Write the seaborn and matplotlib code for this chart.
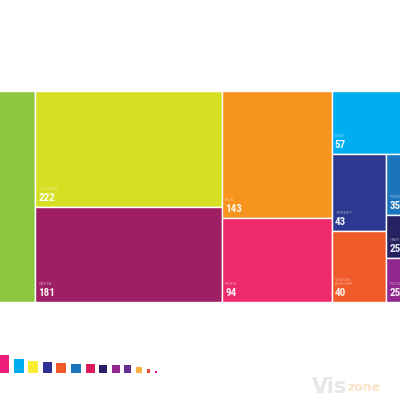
import matplotlib
matplotlib.use("Agg")
import matplotlib.pyplot as plt
from matplotlib import font_manager
import seaborn as sns

sns.set_theme(style="white")
plt.rcParams['font.family'] = ['DejaVu Sans']

# ---------------- data ----------------
names = ["SALAD", "CHICKEN", "PASTA", "RICE", "FRIES", "BEEF", "LAMB",
         "TURKEY", "VEGGIE\nBURGER", "PORK", "HAM", "PIZZA"]
values = [260, 222, 181, 143, 94, 57, 14, 43, 40, 35, 25, 25]
colors = ["#8DC63F", "#D7DF23", "#9E1F63", "#F7941D", "#EE2A6B", "#00AEEF",
          "#27AAE1", "#2B3990", "#F15A29", "#1B75BC", "#262262", "#92278F"]
# grouping of items (indices) into columns / rows
tree = [[0], [1, 2], [3, 4], [[5, 6], [[7, 8], [9, 10, 11]]]]

legend_colors = ["#ED1E79", "#00AEEF", "#F9ED32", "#2E3192", "#F15A29", "#1B75BC",
                 "#D91C5C", "#262262", "#92278F", "#662D91", "#FBB040", "#EF4136", "#EC008C"]
legend_w = [10, 10, 10, 9, 10, 10, 9, 8, 8, 7, 6, 3.5, 2]
legend_h = [18, 14, 12, 11, 10, 9, 9, 8, 8, 8, 6, 4, 2]

# condensed font for numbers, if available
avail = {f.name for f in font_manager.fontManager.ttflist}
narrow = None
for cand in ["Liberation Sans Narrow", "DejaVu Sans Condensed", "Roboto Condensed",
             "Open Sans Condensed"]:
    if cand in avail:
        narrow = cand
        break

# ---------------- layout ----------------
def total(node):
    if isinstance(node, int):
        return values[node]
    return sum(total(n) for n in node)

rects = {}
def layout(node, x, y, w, h, depth):
    if isinstance(node, int):
        rects[node] = (x, y, w, h)
        return
    s = total(node)
    pos = 0.0
    for child in node:
        f = total(child) / s
        if depth % 2 == 0:
            layout(child, x + pos * w, y, f * w, h, depth + 1)
        else:
            layout(child, x, y + pos * h, w, f * h, depth + 1)
        pos += f

top, H = 91, 211
k = 186.5 * H / 403.0          # px^2 per unit
W = total(tree) * k / H
x0 = 35.5 - values[0] * k / H
layout(tree, x0, top, W, H, 0)

fig = plt.figure(figsize=(4, 4), dpi=100)
ax = fig.add_axes([0, 0, 1, 1])
ax.set_xlim(0, 400)
ax.set_ylim(400, 0)
ax.axis("off")

for i in range(len(values)):
    x, y, w, h = rects[i]
    ax.bar(x, h, width=w, bottom=y, align="edge", color=colors[i],
           edgecolor="white", linewidth=1.0)
    if x + 3 < 0 or x + 3 > 400:
        continue
    if narrow:
        ax.text(x + 3, y + h - 4, str(values[i]), color="white", alpha=0.92,
                fontsize=8, fontweight="bold", family=narrow,
                ha="left", va="bottom", clip_on=True)
    else:
        ax.text(x + 3, y + h - 4, str(values[i]), color="white", alpha=0.92,
                fontsize=7, fontweight="bold",
                ha="left", va="bottom", clip_on=True)
    nl = names[i].count("\n")
    ax.text(x + 3, y + h - 16, names[i], color="white", alpha=0.5,
            fontsize=3.2, ha="left", va="bottom", linespacing=1.1, clip_on=True)

# ---------------- small legend squares ----------------
base = 373
gap = 4.6
lx = -1
for c, w, h in zip(legend_colors, legend_w, legend_h):
    ax.bar(lx, h, width=w, bottom=base - h, align="edge", color=c, linewidth=0)
    lx += w + gap

# ---------------- watermark ----------------
ax.text(312, 393, "Vis", fontsize=15, fontweight="bold", color="#E6E6E6",
        ha="left", va="baseline")
ax.text(348, 391, "zone", fontsize=9, fontweight="bold", color="#FBE5CC",
        ha="left", va="baseline")

fig.savefig("out.png", dpi=100, facecolor="white")
